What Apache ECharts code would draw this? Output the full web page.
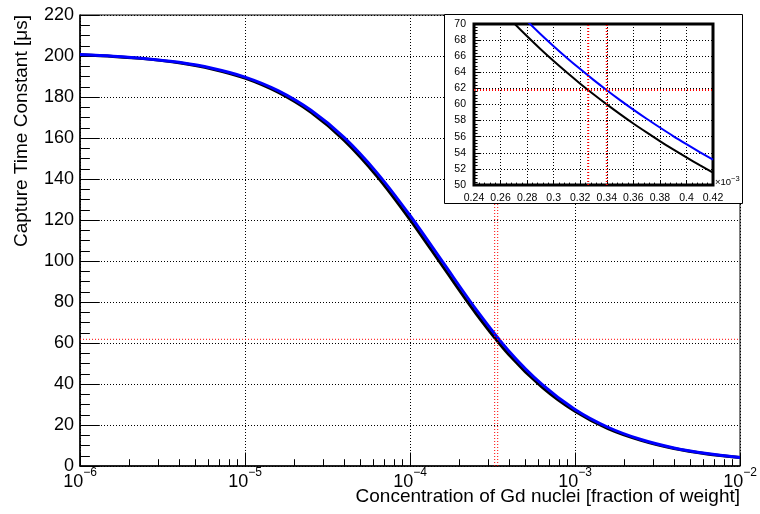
<!DOCTYPE html>
<html><head><meta charset="utf-8">
<script src="https://cdn.jsdelivr.net/npm/echarts@6/dist/echarts.min.js"></script>
<style>html,body{margin:0;padding:0;background:#fff}#c{width:760px;height:514px}</style>
</head><body><div id="c"></div>
<script>
// ---- data ----
const conc = [1e-6,1.585e-6,2.512e-6,3.981e-6,6.31e-6,
              1e-5,1.585e-5,2.512e-5,3.981e-5,6.31e-5,
              1e-4,1.585e-4,2.512e-4,3.981e-4,6.31e-4,
              1e-3,1.585e-3,2.512e-3,3.981e-3,6.31e-3,1e-2];
const tauBlack = [200.6,199.8,198.6,196.7,193.7,
                  189.2,182.3,172.5,158.9,141.3,
                  120.2,97.2,74.4,54.3,38.5,
                  26.7,18.2,12.5,8.5,5.85,4.1];
const tauBlue  = [200.7,199.9,198.7,196.9,194.0,
                  189.7,183.1,173.5,160.3,143.0,
                  122.2,99.3,76.4,56.0,39.8,
                  27.6,18.9,12.9,8.8,6.05,4.2];
// inset (x in units of 1e-3)
const insetX = [0.26,0.27,0.28,0.29,0.30,0.31,0.32,0.33,0.34,0.35,0.36,0.37,0.38,0.39,0.40,0.41,0.42];
const insetBlack = [71.85,70.12,68.47,66.90,65.40,63.97,62.59,61.28,60.02,58.81,57.64,56.53,55.45,54.42,53.42,52.46,51.53];
const insetBlue  = [73.78,72.03,70.36,68.77,67.25,65.79,64.40,63.06,61.78,60.55,59.37,58.23,57.14,56.08,55.07,54.09,53.14];
// reference lines
const redX = [0.326e-3, 0.34e-3];
const redY = [61.8];
// axis ranges and ticks
const mainX = [1e-6, 1e-2];
const mainY = [0, 220];
const insetXRange = [0.24, 0.42];
const insetYRange = [50, 70];
const minorXTicks = [2e-6,3e-6,4e-6,5e-6,6e-6,7e-6,8e-6,9e-6,2e-5,3e-5,4e-5,5e-5,6e-5,7e-5,8e-5,9e-5,2e-4,3e-4,4e-4,5e-4,6e-4,7e-4,8e-4,9e-4,2e-3,3e-3,4e-3,5e-3,6e-3,7e-3,8e-3,9e-3];
const xTitle = 'Concentration of Gd nuclei [fraction of weight]';
const yTitle = 'Capture Time Constant [\u03bcs]';

const FF = '"Liberation Sans", Arial, Helvetica, sans-serif';
const dot = [1, 2];

const chart = echarts.init(document.getElementById('c'), null, {renderer: 'canvas'});

function pair(xs, ys) { return xs.map((x, i) => [x, ys[i]]); }

function redSeries(xIdx, yIdx, xs, ys, xr, yr, width, z) {
  const out = [];
  xs.forEach(v => out.push({
    type: 'line', xAxisIndex: xIdx, yAxisIndex: yIdx, data: [[v, yr[0]], [v, yr[1]]],
    showSymbol: false, silent: true, clip: true, z: z,
    lineStyle: {color: '#ff0000', type: dot, width: width}
  }));
  ys.forEach(v => out.push({
    type: 'line', xAxisIndex: xIdx, yAxisIndex: yIdx, data: [[xr[0], v], [xr[1], v]],
    showSymbol: false, silent: true, clip: true, z: z,
    lineStyle: {color: '#ff0000', type: dot, width: width}
  }));
  return out;
}

const option = {
  animation: false,
  backgroundColor: '#fff',
  grid: [
    {left: 80, top: 15, width: 660, height: 451, show: true, borderColor: '#000', borderWidth: 1, backgroundColor: 'transparent'},
    {left: 474, top: 24, width: 239, height: 161, show: true, borderColor: '#000', borderWidth: 3, backgroundColor: '#fff', z: 110}
  ],
  xAxis: [
    {
      type: 'log', logBase: 10, gridIndex: 0, min: mainX[0], max: mainX[1],
      axisLine: {show: true, onZero: false, lineStyle: {color: '#000', width: 1.5}},
      axisTick: {show: true, inside: true, length: 13.5, lineStyle: {color: '#000', width: 1}},
      splitLine: {show: true, lineStyle: {color: '#000', type: dot, width: 1}},
      axisLabel: {
        margin: 1, color: '#000',
        formatter: function (v) {
          const e = Math.round(Math.log10(v));
          return '{b|10}{s|' + (e < 0 ? '\u2212' + (-e) : e) + '}';
        },
        rich: {
          b: {fontSize: 18, fontFamily: FF, lineHeight: 24, verticalAlign: 'bottom', color: '#000'},
          s: {fontSize: 12, fontFamily: FF, lineHeight: 13, verticalAlign: 'top', color: '#000'}
        }
      }
    },
    {
      type: 'log', logBase: 10, gridIndex: 0, min: mainX[0], max: mainX[1], position: 'bottom',
      axisLine: {show: false},
      axisLabel: {show: false},
      splitLine: {show: false},
      axisTick: {show: true, inside: true, length: 6.8, customValues: minorXTicks, lineStyle: {color: '#000', width: 1}}
    },
    {
      type: 'value', gridIndex: 1, min: insetXRange[0], max: insetXRange[1], interval: 0.02, z: 112,
      axisLine: {show: false},
      axisTick: {show: true, inside: true, length: 4.8, lineStyle: {color: '#000'}},
      minorTick: {show: true, splitNumber: 5, length: 2.4, lineStyle: {color: '#000'}},
      splitLine: {show: true, lineStyle: {color: '#000', type: dot, width: 1}},
      axisLabel: {fontSize: 10.5, fontFamily: FF, color: '#000', margin: 8}
    }
  ],
  yAxis: [
    {
      type: 'value', gridIndex: 0, min: mainY[0], max: mainY[1], interval: 20,
      axisLine: {show: true, onZero: false, lineStyle: {color: '#000', width: 1.5}},
      axisTick: {show: true, inside: true, length: 19.8, lineStyle: {color: '#000', width: 1}},
      minorTick: {show: true, splitNumber: 4, length: 9.9, lineStyle: {color: '#000', width: 1}},
      splitLine: {show: true, lineStyle: {color: '#000', type: dot, width: 1}},
      axisLabel: {fontSize: 18, fontFamily: FF, color: '#000', margin: 6}
    },
    {
      type: 'value', gridIndex: 1, min: insetYRange[0], max: insetYRange[1], interval: 2, z: 112,
      axisLine: {show: false},
      axisTick: {show: true, inside: true, length: 7.2, lineStyle: {color: '#000'}},
      minorTick: {show: true, splitNumber: 5, length: 3.6, lineStyle: {color: '#000'}},
      splitLine: {show: true, lineStyle: {color: '#000', type: dot, width: 1}},
      axisLabel: {fontSize: 10.5, fontFamily: FF, color: '#000', margin: 8}
    }
  ],
  series: [
    {
      type: 'line', xAxisIndex: 0, yAxisIndex: 0, data: pair(conc, tauBlack),
      showSymbol: false, smooth: 0.3,
      lineStyle: {color: '#000', width: 3}, z: 3
    },
    {
      type: 'line', xAxisIndex: 0, yAxisIndex: 0, data: pair(conc, tauBlue),
      showSymbol: false, smooth: 0.3,
      lineStyle: {color: '#0000ff', width: 3}, z: 4
    }
  ].concat(redSeries(0, 0, redX, redY, mainX, mainY, 1, 5)).concat([
    {
      type: 'line', xAxisIndex: 2, yAxisIndex: 1, data: pair(insetX, insetBlack),
      showSymbol: false, smooth: 0.3, clip: true,
      lineStyle: {color: '#000', width: 2}, z: 120
    },
    {
      type: 'line', xAxisIndex: 2, yAxisIndex: 1, data: pair(insetX, insetBlue),
      showSymbol: false, smooth: 0.3, clip: true,
      lineStyle: {color: '#0000ff', width: 2}, z: 121
    }
  ]).concat(redSeries(2, 1, redX.map(v => v * 1000), redY, insetXRange, insetYRange, 2, 122)),
  graphic: [
    {type: 'rect', z: 100, shape: {x: 444.5, y: 14.5, width: 298, height: 189},
      style: {fill: '#fff', stroke: '#000', lineWidth: 1}},
    {type: 'text', z: 130, x: 715, y: 187,
      style: {text: '{a|\u00d710}{s|\u22123}', textVerticalAlign: 'bottom',
        rich: {a: {fontSize: 9.5, fontFamily: FF, fill: '#000', lineHeight: 12, verticalAlign: 'bottom'},
               s: {fontSize: 7.5, fontFamily: FF, fill: '#000', lineHeight: 8, verticalAlign: 'top'}}}},
    {type: 'text', z: 10, x: 740, y: 497,
      style: {text: xTitle, font: '19px ' + FF, fill: '#000', textAlign: 'right', textVerticalAlign: 'middle'}},
    {type: 'text', z: 10, x: 22, y: 15, rotation: Math.PI / 2,
      style: {text: yTitle, font: '19px ' + FF, fill: '#000', textAlign: 'right', textVerticalAlign: 'middle'}}
  ]
};
chart.setOption(option);
</script>
</body></html>
